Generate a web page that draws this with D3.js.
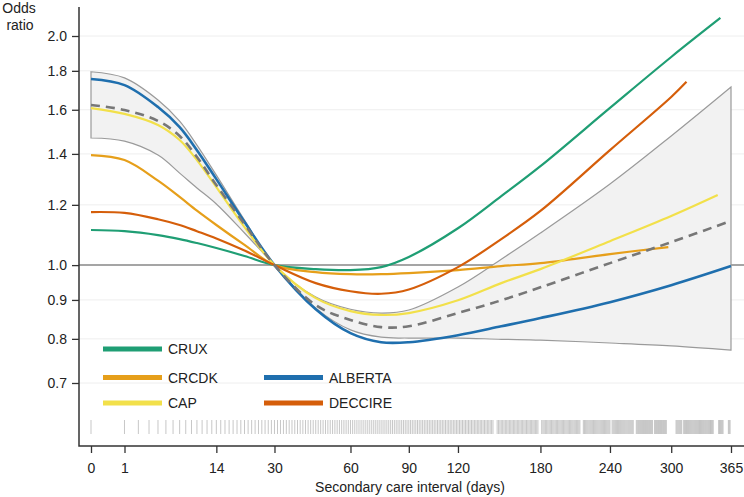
<!DOCTYPE html>
<html lang="en">
<head>
  <meta charset="UTF-8">
  <title>Secondary care interval and odds ratio</title>
  <script src="https://d3js.org/d3.v7.min.js"></script>
  <style>
    body { margin: 0; background: #fff; }
    svg { display: block; font-family: "Liberation Sans", Arial, sans-serif; }
    .axis text { font-size: 14px; fill: #222; }
    .axis line { stroke: #333; stroke-width: 1.3px; }
    .label { font-size: 14px; fill: #222; }
  </style>
</head>
<body>
  <svg id="chart" width="744" height="497"></svg>

  <script>
    // tick values
    const xTicks = [0, 1, 14, 30, 60, 90, 120, 180, 240, 300, 365];
    const yTicks = [0.7, 0.8, 0.9, 1.0, 1.2, 1.4, 1.6, 1.8, 2.0];

    // pooled estimate and its confidence band (same days)
    const ciDays  = [0, 1, 4, 7, 10, 14, 21, 30, 45, 60, 75, 90, 120, 150, 180, 240, 300, 365];
    const pooled  = [1.623, 1.599, 1.547, 1.478, 1.387, 1.274, 1.132, 1.0, 0.886, 0.847, 0.829, 0.831, 0.865, 0.899, 0.935, 1.006, 1.072, 1.143];
    const ciUpper = [1.795, 1.762, 1.648, 1.546, 1.438, 1.313, 1.146, 1.0, 0.908, 0.875, 0.865, 0.873, 0.936, 1.018, 1.102, 1.278, 1.478, 1.714];
    const ciLower = [1.469, 1.455, 1.395, 1.321, 1.263, 1.203, 1.102, 1.0, 0.878, 0.822, 0.804, 0.802, 0.802, 0.799, 0.797, 0.790, 0.783, 0.773];

    // single studies: [day, odds ratio]
    const crux = [[0, 1.112], [1, 1.108], [4, 1.095], [7, 1.082], [10, 1.069], [14, 1.053], [21, 1.028], [30, 1.0],
      [45, 0.988], [60, 0.985], [75, 0.994], [90, 1.025], [120, 1.118], [150, 1.232], [180, 1.349], [240, 1.609], [300, 1.877], [353, 2.112]];
    const crcdk = [[0, 1.395], [1, 1.374], [4, 1.291], [7, 1.229], [10, 1.179], [14, 1.129], [21, 1.063], [30, 1.0],
      [45, 0.979], [60, 0.973], [75, 0.973], [90, 0.976], [120, 0.985], [150, 0.997], [180, 1.006], [240, 1.034], [297, 1.056]];
    const cap = [[0, 1.608], [1, 1.58], [4, 1.528], [7, 1.460], [10, 1.374], [14, 1.266], [21, 1.122], [30, 1.0],
      [45, 0.905], [60, 0.870], [75, 0.860], [90, 0.865], [120, 0.899], [150, 0.947], [180, 0.988], [240, 1.075], [300, 1.16], [350, 1.236]];
    const alberta = [[0, 1.756], [1, 1.724], [4, 1.613], [7, 1.518], [10, 1.416], [14, 1.297], [21, 1.139], [30, 1.0],
      [45, 0.875], [60, 0.814], [75, 0.792], [90, 0.792], [120, 0.809], [150, 0.831], [180, 0.852], [240, 0.894], [300, 0.941], [365, 0.997]];
    const deccire = [[0, 1.174], [1, 1.171], [4, 1.149], [7, 1.129], [10, 1.108], [14, 1.084], [21, 1.045], [30, 1.0],
      [45, 0.947], [60, 0.924], [75, 0.917], [90, 0.929], [120, 0.994], [150, 1.082], [180, 1.178], [240, 1.416], [300, 1.663], [316, 1.741]];

    const studyNames  = ["CRUX", "CRCDK", "ALBERTA", "CAP", "DECCIRE"];
    const studyColors = ["#1f9e74", "#e69f1a", "#1f6fae", "#f2e04a", "#d55e0a"];
    const studyData   = [crux, crcdk, alberta, cap, deccire];

    // observed intervals (rug), runs of days read from the strip
    const rugRanges = [[0, 144], [147, 178], [181, 213], [216, 240], [242, 262], [265, 281],
      [283, 295], [305, 311], [313, 345], [351, 356], [362, 364]];

    const svg = d3.select("#chart");
    const axisY = 446, axisX = 79;

    const x = d3.scaleSqrt().domain([0, 365]).range([91, 731]);
    const y = d3.scaleLog().domain([0.7, 2.0]).range([383, 36]);
    const curve = d3.curveCatmullRom.alpha(0.5);

    // grid
    svg.append("g").selectAll("line")
      .data(yTicks)
      .join("line")
      .attr("x1", axisX).attr("x2", 744)
      .attr("y1", d => y(d)).attr("y2", d => y(d))
      .attr("stroke", "#eeeeee").attr("stroke-width", 1);

    // reference line at 1
    svg.append("line")
      .attr("x1", axisX).attr("x2", 744)
      .attr("y1", y(1)).attr("y2", y(1))
      .attr("stroke", "#8a8a8a").attr("stroke-width", 1.5);

    // confidence band
    const band = ciDays.map((d, i) => ({ day: d, lo: ciLower[i], hi: ciUpper[i] }));
    svg.append("path")
      .datum(band)
      .attr("fill", "#f2f2f2")
      .attr("stroke", "#9a9a9a")
      .attr("stroke-width", 1.2)
      .attr("d", d3.area()
        .x(d => x(d.day))
        .y0(d => y(d.lo))
        .y1(d => y(d.hi))
        .curve(curve));

    const line = d3.line()
      .x(d => x(d[0]))
      .y(d => y(d[1]))
      .curve(curve);

    studyData.forEach((data, i) => {
      svg.append("path")
        .datum(data)
        .attr("fill", "none")
        .attr("stroke", studyColors[i])
        .attr("stroke-width", i === 2 ? 2.6 : 2.2)
        .attr("d", line);
    });

    // pooled estimate, dashed
    svg.append("path")
      .datum(ciDays.map((d, i) => [d, pooled[i]]))
      .attr("fill", "none")
      .attr("stroke", "#777")
      .attr("stroke-width", 2.6)
      .attr("stroke-dasharray", "9,6")
      .attr("d", line);

    // rug
    const rugDays = rugRanges.flatMap(([a, b]) => d3.range(a, b + 1));
    svg.append("g").selectAll("line")
      .data(rugDays)
      .join("line")
      .attr("x1", d => x(d)).attr("x2", d => x(d))
      .attr("y1", 420).attr("y2", 434)
      .attr("stroke", "#999")
      .attr("stroke-opacity", 0.55)
      .attr("stroke-width", 1);

    // legend
    const legendCol = [103, 103, 264, 103, 264];
    const legendRow = [349, 377.5, 377.5, 403, 403];
    const legend = svg.append("g");
    studyNames.forEach((name, i) => {
      legend.append("line")
        .attr("x1", legendCol[i]).attr("x2", legendCol[i] + 59)
        .attr("y1", legendRow[i]).attr("y2", legendRow[i])
        .attr("stroke", studyColors[i])
        .attr("stroke-width", 5);
      legend.append("text")
        .attr("class", "label")
        .attr("x", legendCol[i] + 65)
        .attr("y", legendRow[i] + 5)
        .text(name);
    });

    // axes
    const xAxis = svg.append("g")
      .attr("class", "axis")
      .attr("transform", `translate(0,${axisY})`)
      .call(d3.axisBottom(x).tickValues(xTicks).tickFormat(d3.format("d")).tickSize(7).tickPadding(10));
    xAxis.select(".domain").remove();

    const yAxis = svg.append("g")
      .attr("class", "axis")
      .attr("transform", `translate(${axisX},0)`)
      .call(d3.axisLeft(y).tickValues(yTicks).tickFormat(d3.format(".1f")).tickSize(7).tickPadding(5));
    yAxis.select(".domain").remove();

    svg.append("path")
      .attr("d", `M${axisX},7V${axisY}H744`)
      .attr("fill", "none")
      .attr("stroke", "#333")
      .attr("stroke-width", 1.5);

    // titles
    svg.append("text").attr("class", "label")
      .attr("x", 19).attr("y", 13).attr("text-anchor", "middle").text("Odds");
    svg.append("text").attr("class", "label")
      .attr("x", 20).attr("y", 30).attr("text-anchor", "middle").text("ratio");
    svg.append("text").attr("class", "label")
      .attr("x", 410).attr("y", 492).attr("text-anchor", "middle")
      .text("Secondary care interval (days)");
  </script>
</body>
</html>
